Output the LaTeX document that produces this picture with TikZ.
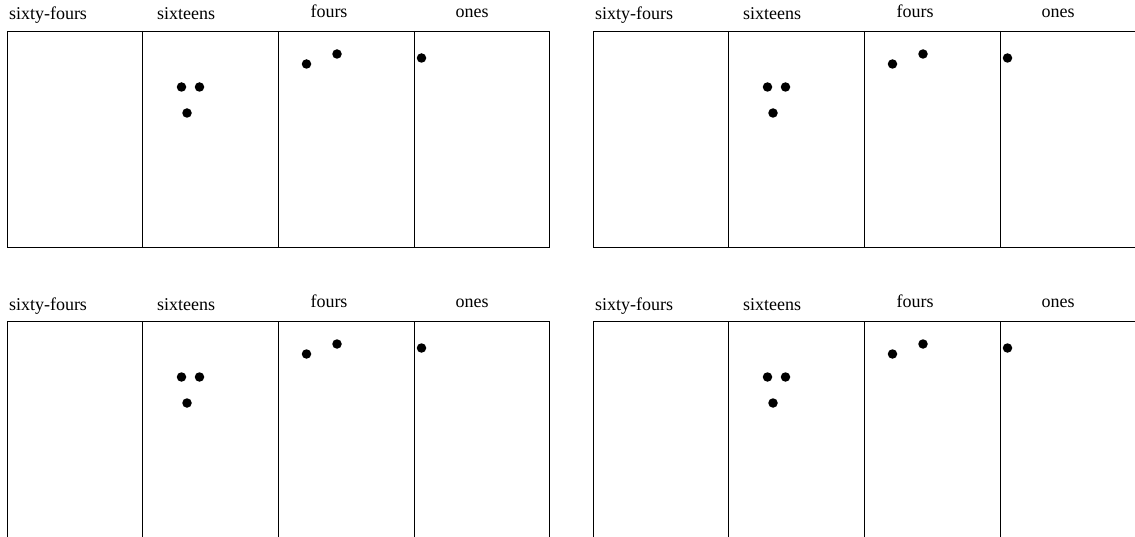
\documentclass[tikz,border=0pt]{standalone}
\usepackage{fontspec}
\setmainfont{Liberation Serif}
\begin{document}
\begin{tikzpicture}[x=1pt,y=-1pt,
  lbl/.style={anchor=base,inner sep=0pt,font=\fontsize{18}{20}\selectfont},
  grid/.style={draw=black,line width=0.9pt},
  bead/.style={circle,fill=black,inner sep=0pt,minimum size=9.5pt}]
\useasboundingbox (0,0) rectangle (1135,537);
\clip (0,0) rectangle (1135,537);
\foreach \ox/\oy/\n in {0/0/a,586/0/b,0/290/c,586/290/d}{
  \begin{scope}[shift={(\ox,\oy)}]
    \draw[grid] (7,31) rectangle (549,247);
    \draw[grid] (142,31) -- (142,247) (278,31) -- (278,247) (414,31) -- (414,247);
    \node[lbl] (\n64) at (48,20) {sixty-fours};
    \node[lbl] (\n16) at (186,20) {sixteens};
    \node[lbl] (\n4) at (329,18) {fours};
    \node[lbl] (\n1) at (472,18) {ones};
    \node[bead] (\n s1) at (181.5,87) {};
    \node[bead] (\n s2) at (199.5,87) {};
    \node[bead] (\n s3) at (187,113) {};
    \node[bead] (\n f1) at (306.5,64) {};
    \node[bead] (\n f2) at (337,54) {};
    \node[bead] (\n o1) at (421.5,58) {};
  \end{scope}
}
\end{tikzpicture}
\end{document}
